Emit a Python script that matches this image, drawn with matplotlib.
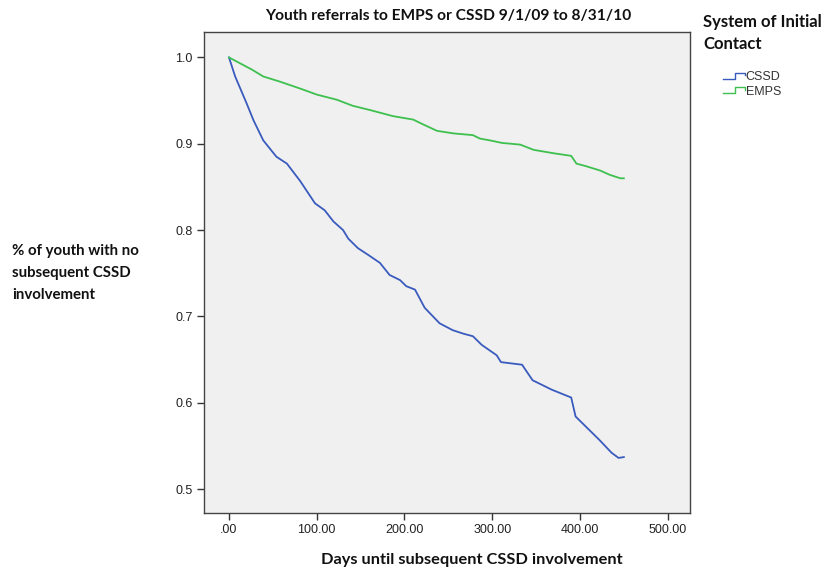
import matplotlib
matplotlib.use("Agg")
import matplotlib.pyplot as plt
from matplotlib.lines import Line2D
from matplotlib.legend_handler import HandlerLine2D
from matplotlib.ticker import FuncFormatter, MultipleLocator

title = "Youth referrals to EMPS or CSSD 9/1/09 to 8/31/10"
xlabel = "Days until subsequent CSSD involvement"
ylabel = "% of youth with no\nsubsequent CSSD\ninvolvement"
legend_title = "System of Initial\nContact"
series_names = ["CSSD", "EMPS"]

cssd_days = [0, 7, 20, 28, 39, 54, 66, 81, 98, 109, 119, 130, 136, 147, 159, 172, 183,
             195, 202, 212, 223, 240, 255, 267, 278, 288, 305, 310, 334, 346, 368, 390,
             395, 407, 422, 436, 444, 450]
cssd_vals = [1.0, 0.978, 0.947, 0.927, 0.904, 0.885, 0.877, 0.857, 0.831, 0.823, 0.810,
             0.800, 0.790, 0.779, 0.771, 0.762, 0.748, 0.742, 0.735, 0.731, 0.710, 0.692,
             0.684, 0.680, 0.677, 0.667, 0.655, 0.647, 0.644, 0.626, 0.615, 0.606, 0.584,
             0.572, 0.557, 0.542, 0.536, 0.537]

emps_days = [0, 26, 39, 58, 81, 100, 123, 141, 161, 187, 210, 218, 237, 256, 278, 286,
             297, 311, 332, 347, 370, 390, 396, 407, 423, 434, 446, 450]
emps_vals = [1.0, 0.986, 0.978, 0.972, 0.964, 0.957, 0.951, 0.944, 0.939, 0.932, 0.928,
             0.924, 0.915, 0.912, 0.910, 0.906, 0.904, 0.901, 0.899, 0.893, 0.889, 0.886,
             0.877, 0.874, 0.869, 0.864, 0.860, 0.860]

colors = ["#3A5BBE", "#3EC04E"]

W, H = 832, 569
fig = plt.figure(figsize=(W / 100, H / 100), dpi=100)
ax = fig.add_axes([204 / W, 1 - 513 / H, (690 - 204) / W, (513 - 32) / H])
ax.set_facecolor("#F0F0F0")

ax.plot(cssd_days, cssd_vals, color=colors[0], lw=1.3, label=series_names[0])
ax.plot(emps_days, emps_vals, color=colors[1], lw=1.3, label=series_names[1])

ax.set_xlim(-28.5, 525.4)
ax.set_ylim(0.4722, 1.0295)
ax.xaxis.set_major_locator(MultipleLocator(100))
ax.yaxis.set_major_locator(MultipleLocator(0.1))
ax.xaxis.set_major_formatter(FuncFormatter(lambda v, p: ".00" if abs(v) < 1e-9 else f"{v:.2f}"))
ax.yaxis.set_major_formatter(FuncFormatter(lambda v, p: f"{v:.1f}"))
ax.tick_params(direction="out", length=5, width=1, color="#333333",
               labelsize=9, labelcolor="#222222", pad=3)
for lab in ax.get_xticklabels() + ax.get_yticklabels():
    lab.set_family("Liberation Sans")
for s in ax.spines.values():
    s.set_color("#444444")
    s.set_linewidth(1.0)

bold_font = dict(family="Lato", weight="bold", color="#111111")
fig.text(448 / W, 1 - 16 / H, title, ha="center", va="center", fontsize=11.2, **bold_font)
fig.text(472 / W, 1 - 560 / H, xlabel, ha="center", va="center", fontsize=11.8, **bold_font)
fig.text(12 / W, 1 - 273 / H, ylabel, ha="left", va="center", fontsize=10.8,
         linespacing=1.75, **bold_font)
fig.text(703 / W, 1 - 33 / H, legend_title, ha="left", va="center", fontsize=12,
         linespacing=1.4, **bold_font)


class StepHandler(HandlerLine2D):
    def create_artists(self, legend, orig_handle, xdescent, ydescent, width, height,
                       fontsize, trans):
        x0 = -xdescent
        x1 = x0 + width
        xm = x0 + width * 0.55
        yl = -ydescent + height * 0.15
        yh = -ydescent + height * 0.85
        line = Line2D([x0, xm, xm, x1, x1], [yl, yl, yh, yh, yh * 0.6 + yl * 0.4],
                      color=orig_handle.get_color(), lw=1.0)
        line.set_transform(trans)
        return [line]


handles = ax.get_lines()
leg = fig.legend(handles, series_names, loc="upper left",
                 bbox_to_anchor=(717 / W, 1 - 65 / H), frameon=False,
                 handler_map={Line2D: StepHandler()}, handlelength=1.7,
                 handletextpad=0.1, labelspacing=0.2, borderpad=0,
                 prop={"family": "Liberation Sans", "size": 9})
for t in leg.get_texts():
    t.set_color("#333333")

fig.savefig("out.png", dpi=100, facecolor="white")
